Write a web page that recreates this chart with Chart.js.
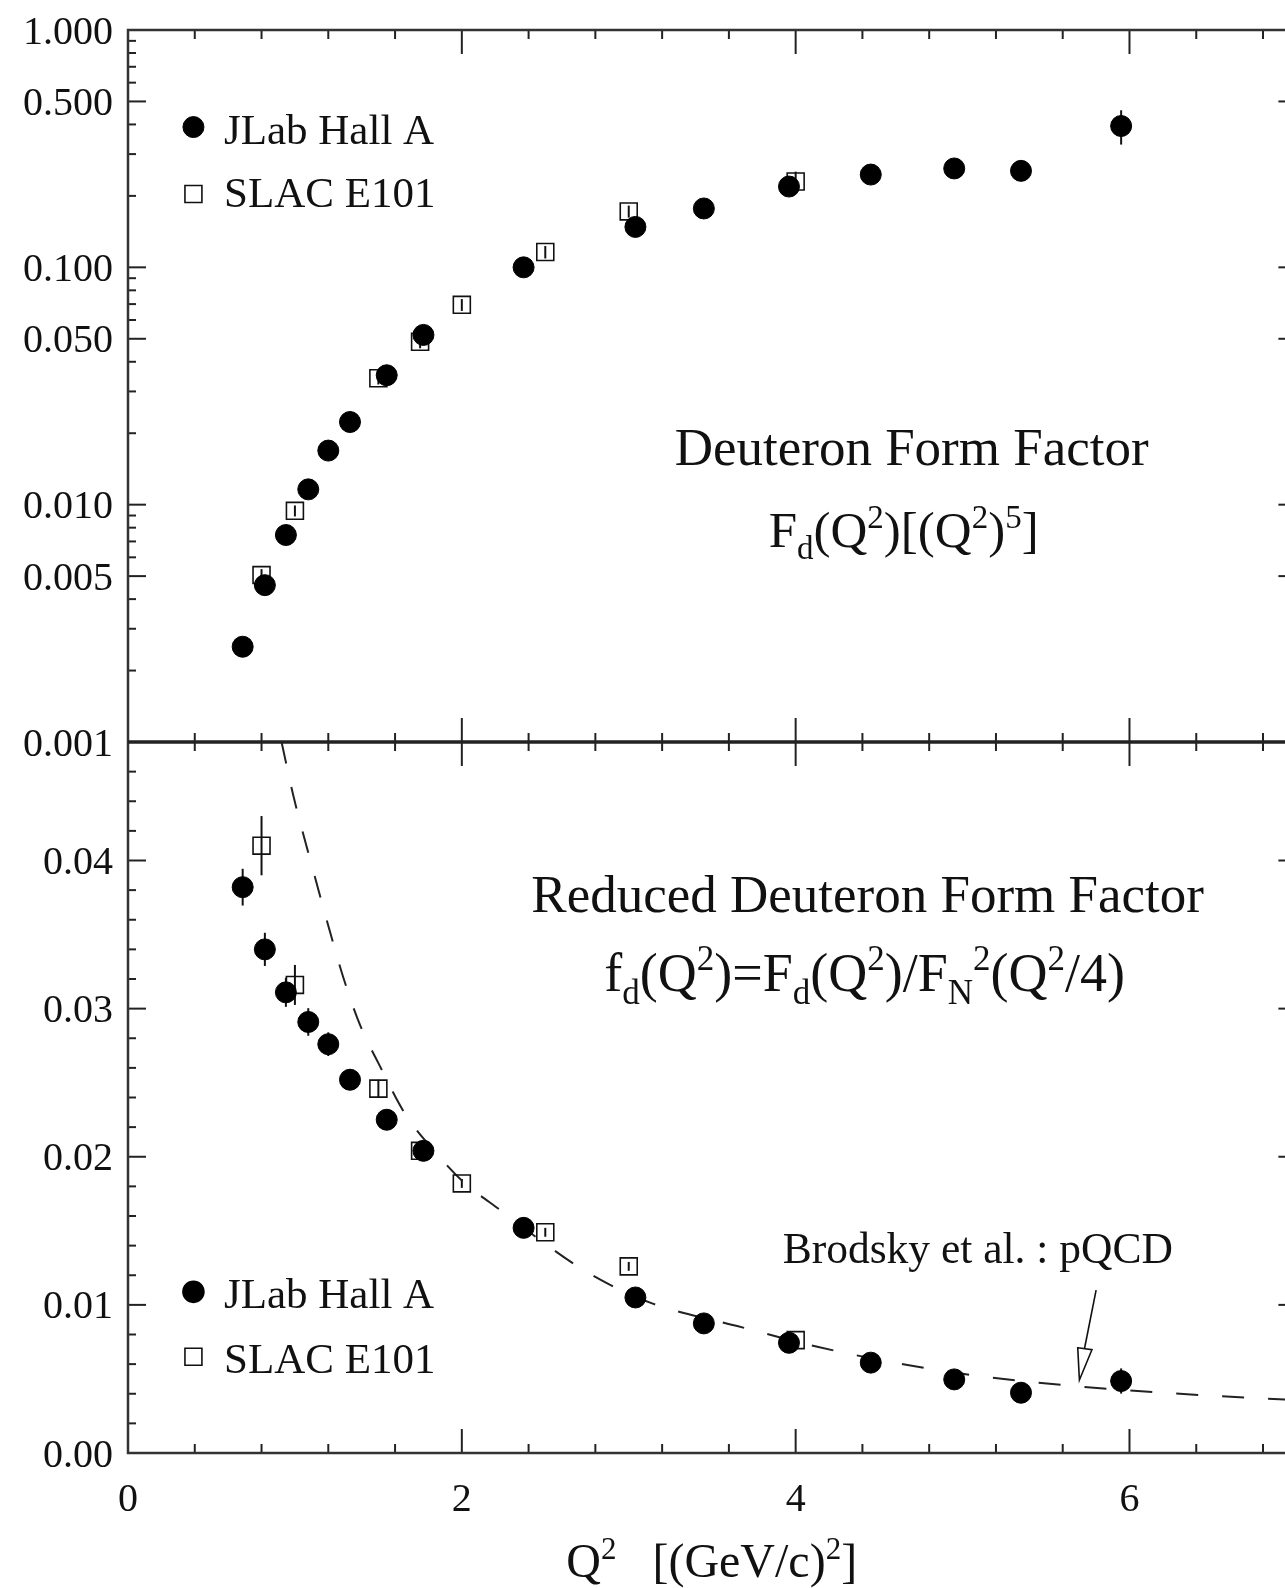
<!DOCTYPE html>
<html><head><meta charset="utf-8">
<script src="https://cdn.jsdelivr.net/npm/chart.js@4.4.1/dist/chart.umd.min.js"></script>
<style>
html,body{margin:0;padding:0;background:#fff;overflow:hidden}
#wrap{width:1285px;height:1588px;overflow:hidden;position:relative;background:#fff}
canvas{display:block}
</style>
</head><body>
<div id="wrap"><canvas id="c" width="1310" height="1588"></canvas></div>
<script>
// ---------------- data ----------------
const q2Jlab = [0.687, 0.82, 0.946, 1.08, 1.20, 1.33, 1.55, 1.77, 2.37, 3.04, 3.45, 3.96, 4.45, 4.95, 5.35, 5.95];
const fdJlab = [0.00252, 0.00458, 0.00745, 0.0116, 0.0169, 0.0223, 0.0351, 0.0519, 0.100, 0.148, 0.177, 0.219, 0.246, 0.261, 0.255, 0.394];
const fdJlabErr = [0.0001, 0.0002, 0.0003, 0.0005, 0.0007, 0.0009, 0.0014, 0.002, 0.004, 0.007, 0.008, 0.01, 0.012, 0.013, 0.015, 0.065];
const q2Slac = [0.80, 1.00, 1.50, 1.75, 2.00, 2.50, 3.00, 4.00];
const fdSlac = [0.00505, 0.00942, 0.0341, 0.0486, 0.0695, 0.116, 0.172, 0.230];
const fdSlacErr = [0.0003, 0.0005, 0.002, 0.003, 0.004, 0.007, 0.01, 0.023];

const redJlab = [0.0382, 0.0340, 0.0311, 0.0291, 0.0276, 0.0252, 0.0225, 0.0204, 0.0152, 0.0105, 0.00875, 0.00744, 0.0061, 0.00497, 0.00407, 0.00486];
const redJlabErr = [0.00124, 0.00112, 0.00098, 0.00093, 0.0008, 0.0007, 0.0006, 0.0006, 0.0005, 0.0004, 0.0004, 0.0004, 0.0004, 0.0004, 0.0005, 0.00085];
const redSlac = [0.0410, 0.0316, 0.0246, 0.0204, 0.0182, 0.0149, 0.0126, 0.00762];
const redSlacErr = [0.002, 0.00135, 0.0006, 0.0004, 0.0003, 0.0003, 0.0003, 0.0003];

const pqcdQ2 = [0.92, 0.99, 1.11, 1.20, 1.29, 1.39, 1.51, 1.66, 1.85, 2.00, 2.23, 2.68, 2.88, 3.14, 3.65, 4.13, 4.67, 5.18, 5.67, 6.20, 6.71, 7.0];
const pqcdVal = [0.048, 0.0444, 0.0393, 0.0356, 0.0321, 0.0289, 0.0261, 0.0229, 0.0202, 0.0184, 0.0164, 0.0127, 0.0114, 0.0101, 0.00857, 0.00717, 0.00594, 0.00508, 0.00452, 0.00407, 0.00373, 0.00358];

const xTickVals = [0, 2, 4, 6];
const xTickLabels = ['0', '2', '4', '6'];
const topTickVals = [1, 0.5, 0.1, 0.05, 0.01, 0.005, 0.001];
const topTickLabels = ['1.000', '0.500', '0.100', '0.050', '0.010', '0.005', '0.001'];
const botTickVals = [0, 0.01, 0.02, 0.03, 0.04];
const botTickLabels = ['0.00', '0.01', '0.02', '0.03', '0.04'];

const seriesNames = ['JLab Hall A', 'SLAC E101'];
const topTitle = 'Deuteron Form Factor';
const botTitle = 'Reduced Deuteron Form Factor';
const theoryLabel = 'Brodsky et al. : pQCD';

// ---------------- styling ----------------
const FONT = "'Liberation Serif', 'Times New Roman', serif";
const INK = '#111';
const pts = (xs, ys) => xs.map((x, i) => ({x: x, y: ys[i]}));

function drawRuns(ctx, runs, x, y, size, ssize, align) {
  let w = 0;
  runs.forEach(r => {
    ctx.font = `${(r.s || r.b) ? ssize : size}px ${FONT}`;
    r._w = ctx.measureText(r.t).width; w += r._w;
  });
  let cx = align === 'center' ? x - w / 2 : x;
  ctx.textAlign = 'left'; ctx.textBaseline = 'alphabetic';
  runs.forEach(r => {
    ctx.font = `${(r.s || r.b) ? ssize : size}px ${FONT}`;
    const dy = r.s ? -0.38 * size : (r.b ? 0.24 * size : 0);
    ctx.fillText(r.t, cx, y + dy);
    cx += r._w;
  });
}

function line(ctx, x1, y1, x2, y2) { ctx.beginPath(); ctx.moveTo(x1, y1); ctx.lineTo(x2, y2); ctx.stroke(); }

const noPad = s => { s.paddingTop = 0; s.paddingBottom = 0; s.paddingLeft = 0; s.paddingRight = 0; };

const framePlugin = {
  id: 'frame',
  beforeDatasetsDraw(chart) {
    const {ctx, chartArea: a} = chart;
    const xs = chart.scales.x, yT = chart.scales.yTop, yB = chart.scales.yBot;
    ctx.save();
    ctx.strokeStyle = '#222'; ctx.lineCap = 'butt';
    // x ticks every 0.4, major every 2
    ctx.lineWidth = 2;
    const xt = [];
    for (let i = 0; i * 0.4 <= xs.max + 1e-9; i++) xt.push(+(i * 0.4).toFixed(2));
    const isMajor = v => Math.abs(v / 2 - Math.round(v / 2)) < 1e-6;
    const hTicks = (yEdge, dir) => xt.forEach(v => {
      const px = xs.getPixelForValue(v); const L = isMajor(v) ? 24 : 9;
      line(ctx, px, yEdge, px, yEdge + dir * L);
    });
    hTicks(yT.top, 1); hTicks(yT.bottom, -1); hTicks(yB.top, 1); hTicks(yB.bottom, -1);
    // y ticks
    const vTick = (scale, v, major) => {
      const py = scale.getPixelForValue(v); const L = major ? 18 : 8;
      line(ctx, a.left, py, a.left + L, py);
      line(ctx, a.right, py, a.right - L, py);
    };
    for (let k = -3; k <= 0; k++) {
      for (let m = 1; m <= 9; m++) {
        const v = m * Math.pow(10, k);
        if (v > 1.0001) break;
        const major = topTickVals.some(t => Math.abs(t - v) / t < 1e-6);
        vTick(yT, v, major);
      }
    }
    for (let i = 0; i <= 24; i++) vTick(yB, i * 0.002, i % 5 === 0);
    // frame
    ctx.lineWidth = 2.5;
    ctx.strokeStyle = '#333';
    ctx.strokeRect(a.left, a.top, a.right - a.left, a.bottom - a.top);
    ctx.lineWidth = 3.5; ctx.strokeStyle = '#222';
    line(ctx, a.left, yT.bottom, a.right, yT.bottom);
    // error bars
    ctx.lineWidth = 2; ctx.strokeStyle = '#111';
    chart.data.datasets.forEach(ds => {
      if (!ds.errs) return;
      const ys = chart.scales[ds.yAxisID];
      ds.data.forEach((p, i) => {
        const e = ds.errs[i];
        const px = xs.getPixelForValue(p.x);
        line(ctx, px, ys.getPixelForValue(p.y + e), px, ys.getPixelForValue(p.y - e));
      });
    });
    ctx.restore();
  },
  afterDatasetsDraw(chart) {
    const {ctx, chartArea: a} = chart;
    const xs = chart.scales.x, yT = chart.scales.yTop, yB = chart.scales.yBot;
    const X = v => xs.getPixelForValue(v);
    ctx.save();
    ctx.fillStyle = INK; ctx.strokeStyle = INK;
    // legends
    const legend = (ys, yc, ys2, tb1, tb2) => {
      ctx.fillStyle = '#000'; ctx.strokeStyle = '#000';
      Chart.helpers.drawPoint(ctx, {pointStyle: 'circle', radius: 10.5, borderWidth: 1}, X(0.392), ys.getPixelForValue(yc));
      ctx.fillStyle = 'rgba(0,0,0,0)'; ctx.strokeStyle = '#111'; ctx.lineWidth = 1.6;
      Chart.helpers.drawPoint(ctx, {pointStyle: 'rect', radius: 12, borderWidth: 1.6}, X(0.392), ys.getPixelForValue(ys2));
      ctx.fillStyle = INK;
      ctx.font = `43px ${FONT}`; ctx.textAlign = 'left'; ctx.textBaseline = 'alphabetic';
      ctx.fillText(seriesNames[0], X(0.575), ys.getPixelForValue(tb1));
      ctx.fillText(seriesNames[1], X(0.575), ys.getPixelForValue(tb2));
    };
    legend(yT, 0.390, 0.2037, 0.3309, 0.180);
    legend(yB, 0.01088, 0.0065, 0.00976, 0.00538);
    ctx.fillStyle = INK;
    // titles
    ctx.font = `53px ${FONT}`; ctx.textAlign = 'center'; ctx.textBaseline = 'alphabetic';
    ctx.fillText(topTitle, X(4.695), yT.getPixelForValue(0.0147));
    ctx.fillText(botTitle, X(4.431), yB.getPixelForValue(0.0365));
    drawRuns(ctx, [{t: 'F'}, {t: 'd', b: 1}, {t: '(Q'}, {t: '2', s: 1}, {t: ')[(Q'}, {t: '2', s: 1}, {t: ')'}, {t: '5', s: 1}, {t: ']'}],
      X(4.647), yT.getPixelForValue(0.00663), 51, 33, 'center');
    drawRuns(ctx, [{t: 'f'}, {t: 'd', b: 1}, {t: '(Q'}, {t: '2', s: 1}, {t: ')=F'}, {t: 'd', b: 1}, {t: '(Q'}, {t: '2', s: 1}, {t: ')/F'},
      {t: 'N', b: 1}, {t: '2', s: 1}, {t: '(Q'}, {t: '2', s: 1}, {t: '/4)'}],
      X(4.413), yB.getPixelForValue(0.0312), 54, 35, 'center');
    // theory label + arrow
    ctx.font = `43.5px ${FONT}`; ctx.textAlign = 'left';
    ctx.fillText(theoryLabel, X(3.922), yB.getPixelForValue(0.01282));
    ctx.lineWidth = 1.6; ctx.strokeStyle = '#111';
    line(ctx, X(5.80), yB.getPixelForValue(0.0110), X(5.73), yB.getPixelForValue(0.00702));
    ctx.beginPath();
    ctx.moveTo(X(5.69), yB.getPixelForValue(0.00710));
    ctx.lineTo(X(5.775), yB.getPixelForValue(0.00697));
    ctx.lineTo(X(5.70), yB.getPixelForValue(0.00493));
    ctx.closePath(); ctx.stroke();
    // x axis title
    drawRuns(ctx, [{t: 'Q'}, {t: '2', s: 1}, {t: '   [(GeV/c)'}, {t: '2', s: 1}, {t: ']'}],
      X(3.497), a.bottom + 124, 48, 31, 'center');
    ctx.restore();
  }
};

new Chart(document.getElementById('c'), {
  data: {
    datasets: [
      {type: 'scatter', label: seriesNames[0], data: pts(q2Jlab, fdJlab), errs: fdJlabErr, yAxisID: 'yTop',
       pointStyle: 'circle', pointRadius: 10.5, backgroundColor: '#000', borderColor: '#000', borderWidth: 1},
      {type: 'scatter', label: seriesNames[1], data: pts(q2Slac, fdSlac), errs: fdSlacErr, yAxisID: 'yTop',
       pointStyle: 'rect', pointRadius: 12, backgroundColor: 'rgba(0,0,0,0)', borderColor: '#111', borderWidth: 1.6},
      {type: 'scatter', label: seriesNames[0], data: pts(q2Jlab, redJlab), errs: redJlabErr, yAxisID: 'yBot',
       pointStyle: 'circle', pointRadius: 10.5, backgroundColor: '#000', borderColor: '#000', borderWidth: 1},
      {type: 'scatter', label: seriesNames[1], data: pts(q2Slac, redSlac), errs: redSlacErr, yAxisID: 'yBot',
       pointStyle: 'rect', pointRadius: 12, backgroundColor: 'rgba(0,0,0,0)', borderColor: '#111', borderWidth: 1.6},
      {type: 'line', label: theoryLabel, data: pts(pqcdQ2, pqcdVal), yAxisID: 'yBot',
       borderColor: '#222', borderWidth: 2, borderDash: [22, 24], pointRadius: 0, fill: false,
       cubicInterpolationMode: 'monotone'}
    ]
  },
  options: {
    responsive: false, animation: false, devicePixelRatio: 1,
    layout: {padding: {top: 30, right: 13, left: 0, bottom: 0}},
    plugins: {legend: {display: false}, tooltip: {enabled: false}},
    scales: {
      x: {type: 'linear', min: 0, max: 7, position: 'bottom',
          grid: {display: false, drawTicks: false}, border: {display: false},
          ticks: {autoSkip: false, maxRotation: 0, padding: 23, color: INK, font: {family: FONT, size: 40},
                  callback: (v, i) => xTickLabels[i]},
          afterBuildTicks: s => { s.ticks = xTickVals.map(v => ({value: v})); },
          afterFit: s => { s.height = 135; noPad(s); }},
      yTop: {type: 'logarithmic', min: 0.001, max: 1, position: 'left', stack: 'panels', stackWeight: 712, weight: 2,
             grid: {display: false, drawTicks: false}, border: {display: false},
             ticks: {autoSkip: false, padding: 15, labelOffset: 3, color: INK, font: {family: FONT, size: 40},
                     callback: (v, i) => topTickLabels[i]},
             afterBuildTicks: s => { s.ticks = topTickVals.map(v => ({value: v})); },
             afterFit: s => { s.width = 128; noPad(s); }},
      yBot: {type: 'linear', min: 0, max: 0.048, position: 'left', stack: 'panels', stackWeight: 711, weight: 1,
             grid: {display: false, drawTicks: false}, border: {display: false},
             ticks: {autoSkip: false, padding: 15, labelOffset: 3, color: INK, font: {family: FONT, size: 40},
                     callback: (v, i) => botTickLabels[i]},
             afterBuildTicks: s => { s.ticks = botTickVals.map(v => ({value: v})); },
             afterFit: s => { s.width = 128; noPad(s); }}
    }
  },
  plugins: [framePlugin]
});
</script>
</body></html>
